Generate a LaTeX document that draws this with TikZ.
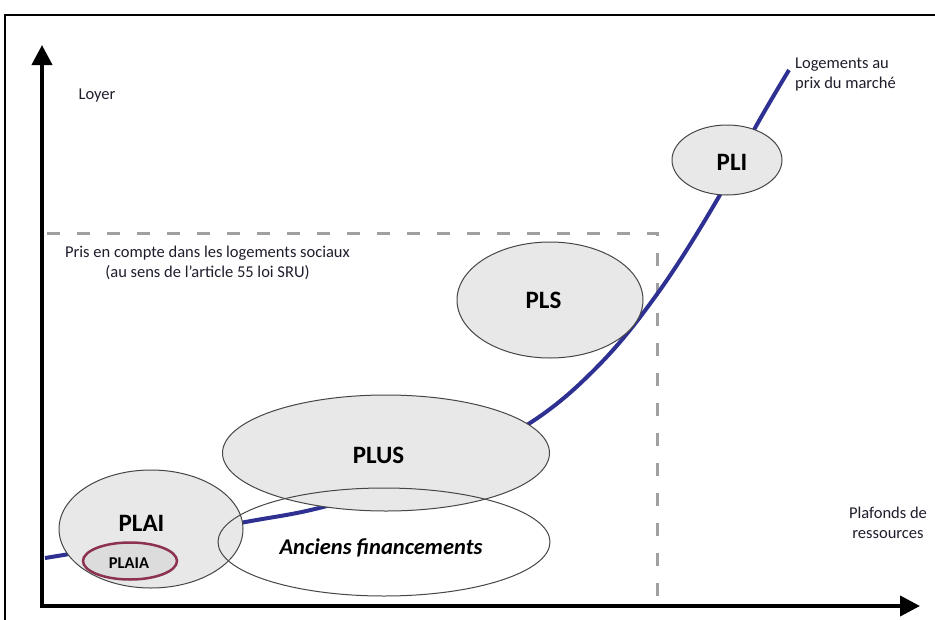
\documentclass[tikz,border=0pt]{standalone}
\usepackage{fontspec}
\setmainfont{Carlito}
\usetikzlibrary{arrows.meta,shapes.geometric}
\definecolor{mkt}{RGB}{46,49,146}
\definecolor{srugray}{RGB}{160,160,160}
\definecolor{lfill}{RGB}{232,232,232}
\definecolor{pfill}{RGB}{220,220,220}
\definecolor{edgegray}{RGB}{70,70,70}
\definecolor{plaiared}{RGB}{140,50,80}
\definecolor{txt}{RGB}{30,30,45}
\tikzset{
  blob/.style={ellipse, inner sep=0pt, outer sep=0pt},
  ring/.style={blob, draw=edgegray, line width=1pt},
  szanc/.style={minimum width=332pt, minimum height=108pt},
  szplai/.style={minimum width=184pt, minimum height=118pt},
  szplus/.style={minimum width=327pt, minimum height=116pt},
  szpls/.style={minimum width=186pt, minimum height=116pt},
  szpli/.style={minimum width=110pt, minimum height=70pt},
  szplaia/.style={minimum width=94pt, minimum height=37pt},
  small/.style={font=\fontsize{16.5}{20}\selectfont, text=txt, inner sep=0pt},
  big/.style={font=\bfseries\fontsize{25}{30}\selectfont, text=black, inner sep=0pt},
  axisline/.style={line width=4pt, line join=miter, {Triangle[width=20pt,length=20pt]}-{Triangle[width=20pt,length=20pt]}},
  srudash/.style={srugray, line width=3pt, dash pattern=on 13pt off 17pt},
  market/.style={mkt, line width=4pt}
}
\begin{document}
\begin{tikzpicture}[x=1pt,y=-1pt]
\useasboundingbox (0,0) rectangle (935,619);
\clip (0,0) rectangle (935,619);
\fill[white] (0,0) rectangle (935,619);
% frame
\draw[line width=1.3pt] (5,15) rectangle (950,640);
% dashed SRU region
\coordinate (dl) at (47,233);
\coordinate (dc) at (657,233);
\coordinate (db) at (657,604);
\draw[srudash] (dl) -- (dc) -- (db);
% axes
\coordinate (ytip) at (42,45);
\coordinate (orig) at (42,606);
\coordinate (xtip) at (920,606);
\draw[axisline] (ytip) -- (orig) -- (xtip);
% ellipse fills
\node[blob, szanc, fill=white] (anc) at (384,542) {};
\draw[market] plot[smooth, tension=0.6] coordinates {(45,558) (110,547) (240,523) (323,507) (430,474) (530,423) (600,364) (660,290) (717,200) (755,128) (789,70)};
\node[blob, szplai, fill=lfill] (plai) at (151,529) {};
\node[blob, szplus, fill=lfill] (plus) at (386,453) {};
\node[blob, szpls, fill=lfill] (pls) at (550,300) {};
\node[blob, szpli, fill=lfill] (pli) at (727,160) {};
% outlines
\node[ring, szanc] at (anc.center) {};
\node[ring, szplai] at (plai.center) {};
\node[ring, szplus] at (plus.center) {};
\node[ring, szpls] at (pls.center) {};
\node[ring, szpli] at (pli.center) {};
\node[blob, szplaia, fill=pfill, draw=plaiared, line width=2.5pt] (plaia) at (130,561) {};
% labels
\node[big] (tpli) at (732,162) {PLI};
\node[big] (tpls) at (543.5,300) {PLS};
\node[big] (tplus) at (378.5,455) {PLUS};
\node[big] (tplai) at (141.5,523) {PLAI};
\node[font=\bfseries\fontsize{16.5}{20}\selectfont, inner sep=0pt] (tplaia) at (129,563) {PLAIA};
\node[font=\bfseries\itshape\fontsize{22.5}{27}\selectfont, inner sep=0pt] (tanc) at (381,548) {Anciens financements};
\node[small] (loyer) at (97,96) {Loyer};
\node[small, anchor=west, align=left] (mkttxt) at (795,75) {Logements au\\prix du marché};
\node[small, align=center] (srutxt) at (207.5,263) {Pris en compte dans les logements sociaux\\(au sens de l’article 55 loi SRU)};
\node[small, align=center] (plaf) at (888,523) {Plafonds de\\ressources};
\end{tikzpicture}
\end{document}
